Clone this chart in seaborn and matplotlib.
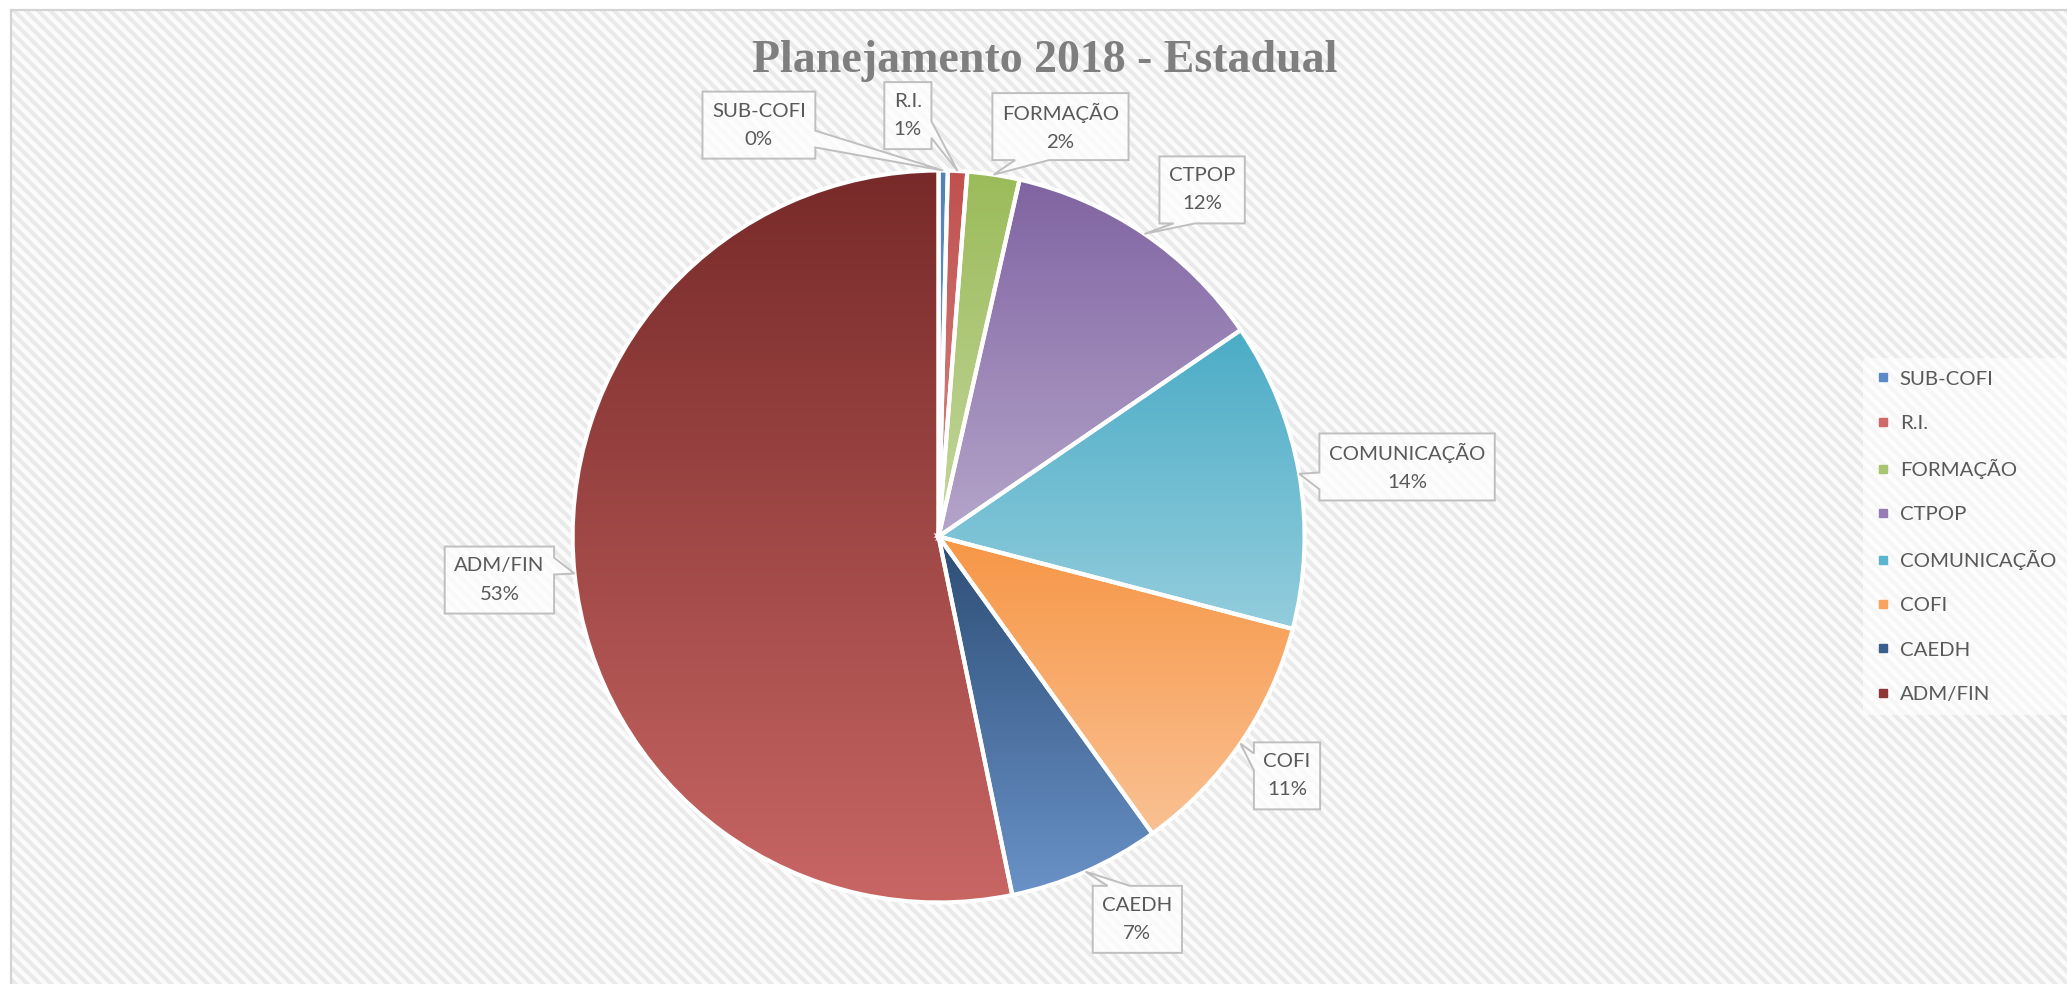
import numpy as np
import matplotlib
matplotlib.use("Agg")
import matplotlib.pyplot as plt
import seaborn as sns
from matplotlib.patches import Polygon, Rectangle
from matplotlib.lines import Line2D
from matplotlib.colors import LinearSegmentedColormap
from matplotlib.transforms import IdentityTransform

# ---------------- data ----------------
categories = ["SUB-COFI", "R.I.", "FORMAÇÃO", "CTPOP", "COMUNICAÇÃO", "COFI", "CAEDH", "ADM/FIN"]
values = [0.4, 0.85, 2.3, 11.9, 13.6, 11.0, 6.7, 53.2]
title = "Planejamento 2018 - Estadual"

# ---------------- style ----------------
top_colors = ["#4F81BD", "#C0504D", "#9BBB59", "#8064A2", "#4BACC6", "#F79646", "#2C4D75", "#772A29"]
bottom_colors = ["#7EA1D2", "#D68B89", "#C4D79E", "#B5A5CA", "#93CDDD", "#FAC193", "#6A92C8", "#C86664"]
legend_colors = ["#5B8AC6", "#D06A68", "#A9C572", "#957CB5", "#5CB5CE", "#F8A45F", "#3A5E8C", "#8E3735"]
# label box centres, in units of pie radius relative to the pie centre
label_pos = [(-0.491, 1.124), (-0.084, 1.150), (0.333, 1.120), (0.720, 0.947),
             (1.280, 0.190), (0.952, -0.654), (0.543, -1.046), (-1.200, -0.119)]

W, H = 2067, 984
sns.set_theme(style="white")
plt.rcParams['font.family'] = ['Lato', 'DejaVu Sans']

fig = plt.figure(figsize=(W / 100, H / 100), dpi=100)
fig.patch.set_facecolor("white")

# patterned chart-area background (diagonal stripes)
left_px, top_px = 11, 10
hh, ww = H - top_px, W - left_px
yy, xx = np.mgrid[0:hh, 0:ww]
stripe = ((xx - yy) % 12) < 6
bg = np.where(stripe[..., None], np.array([0.918, 0.918, 0.918]), np.array([0.985, 0.985, 0.985]))
fig.figimage(bg, xo=left_px, yo=0, origin="upper", zorder=-2)
fig.add_artist(Rectangle((left_px / W, -0.01), (W - left_px) / W + 0.01, (H - top_px) / H + 0.01,
                         transform=fig.transFigure, fill=False, edgecolor="#D4D4D4", lw=1.6, zorder=-1))

# ---------------- pie ----------------
cx, cy, R = 938.6, 536.5, 366.0
ax = fig.add_axes([(cx - R) / W, (H - cy - R) / H, 2 * R / W, 2 * R / H])
ax.set_facecolor("none")
ax.set_axis_off()

wedges, _ = ax.pie(values, startangle=90, counterclock=False, radius=1, colors=top_colors,
                   wedgeprops=dict(edgecolor="white", linewidth=3.0))

grad = np.linspace(0, 1, 256).reshape(-1, 1)
for w, c0, c1 in zip(wedges, top_colors, bottom_colors):
    ext = w.get_path().get_extents()
    cmap = LinearSegmentedColormap.from_list("g", [c0, c1])
    im = ax.imshow(grad, extent=(ext.x0, ext.x1, ext.y0, ext.y1), origin="upper",
                   cmap=cmap, aspect="auto", zorder=1, interpolation="bilinear")
    im.set_clip_path(w)
    w.set_facecolor("none")
    w.set_zorder(2)

ax.set_aspect("equal")
ax.set_xlim(-1, 1)
ax.set_ylim(-1, 1)

total = sum(values)
texts = []
for i, (cat, v) in enumerate(zip(categories, values)):
    lx, ly = label_pos[i]
    t = ax.text(lx, ly, f"{cat}\n{round(100 * v / total):d}%", ha="center", va="center",
                fontsize=14.7, color="#595959", linespacing=1.8, zorder=6, clip_on=False)
    texts.append(t)

# title
fig.text(1045 / W, 1 - 72 / H, title, ha="center", va="baseline", fontsize=33,
         fontweight="bold", color="#7F7F7F", family=["Liberation Serif", "DejaVu Serif"])

# legend
handles = [Line2D([], [], marker="s", ls="", color=c, markersize=6.0) for c in legend_colors]
leg = fig.legend(handles, categories, loc="upper left", bbox_to_anchor=(1863 / W, 1 - 358 / H),
                 frameon=True, fontsize=14.7, labelspacing=1.32, handlelength=0.8,
                 handletextpad=0.4, borderpad=0.6, borderaxespad=0)
leg.get_frame().set_facecolor("white")
leg.get_frame().set_alpha(0.6)
leg.get_frame().set_edgecolor("none")
for t in leg.get_texts():
    t.set_color("#595959")

# callout boxes
fig.canvas.draw()
renderer = fig.canvas.get_renderer()
pad_x = 9.5
box_h = 67.0
for i, (w, t) in enumerate(zip(wedges, texts)):
    bb = t.get_window_extent(renderer)
    hc, vc = (bb.x0 + bb.x1) / 2, (bb.y0 + bb.y1) / 2
    l, r = bb.x0 - pad_x, bb.x1 + pad_x
    b, tp = vc - box_h / 2, vc + box_h / 2
    bw, bh = r - l, tp - b
    th = np.deg2rad((w.theta1 + w.theta2) / 2)
    tx, ty = ax.transData.transform((np.cos(th), np.sin(th)))
    dxp, dyp = tx - hc, ty - vc
    adx = abs(dxp) * bh / bw
    ady = abs(dyp) * bw / bh
    if ady > adx:
        if dxp > 0:
            x1, x2 = l + bw * 7 / 12, l + bw * 10 / 12
        else:
            x1, x2 = l + bw * 2 / 12, l + bw * 5 / 12
        if dyp > 0:
            verts = [(l, b), (r, b), (r, tp), (x2, tp), (tx, ty), (x1, tp), (l, tp)]
        else:
            verts = [(l, b), (x1, b), (tx, ty), (x2, b), (r, b), (r, tp), (l, tp)]
    else:
        if dyp < 0:
            yh, yl = tp - bh * 7 / 12, tp - bh * 10 / 12
        else:
            yh, yl = tp - bh * 2 / 12, tp - bh * 5 / 12
        if dxp > 0:
            verts = [(l, b), (r, b), (r, yl), (tx, ty), (r, yh), (r, tp), (l, tp)]
        else:
            verts = [(l, b), (r, b), (r, tp), (l, tp), (l, yh), (tx, ty), (l, yl)]
    poly = Polygon(verts, closed=True, transform=IdentityTransform(), facecolor=(1, 1, 1, 0.72),
                   edgecolor="#BFBFBF", lw=1.4, zorder=5, clip_on=False)
    ax.add_patch(poly)

fig.savefig("out.png", dpi=100, facecolor=fig.get_facecolor())
